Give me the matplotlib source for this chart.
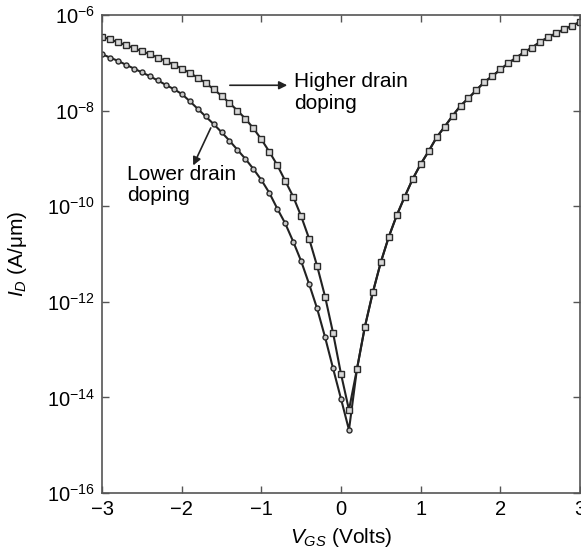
import numpy as np
import matplotlib
matplotlib.use('Agg')
import matplotlib.pyplot as plt

plt.rcParams['font.family'] = ['Liberation Sans', 'DejaVu Sans']
plt.rcParams['mathtext.fontset'] = 'custom'
plt.rcParams['mathtext.rm'] = 'Liberation Sans'
plt.rcParams['mathtext.it'] = 'Liberation Sans:italic'

# gate voltage, 0.1 V steps
vgs = np.round(np.arange(-3.0, 3.01, 0.1), 1)

# log10 of drain current (A/um)
# higher drain doping (squares)
log_id_high = [-6.45, -6.51, -6.57, -6.63, -6.69, -6.76, -6.82, -6.89, -6.96, -7.04,
               -7.12, -7.21, -7.31, -7.42, -7.55, -7.69, -7.84, -8.00, -8.17, -8.37,
               -8.60, -8.86, -9.14, -9.47, -9.80, -10.21, -10.68, -11.25, -11.89, -12.65,
               -13.51, -14.26, -13.41, -12.52, -11.80, -11.17, -10.64, -10.19, -9.80, -9.43,
               -9.12, -8.85, -8.56, -8.34, -8.11, -7.90, -7.74, -7.57, -7.40, -7.28,
               -7.14, -7.01, -6.89, -6.78, -6.68, -6.56, -6.47, -6.38, -6.30, -6.22,
               -6.15]
# lower drain doping (circles)
log_id_low = [-6.82, -6.89, -6.96, -7.04, -7.12, -7.20, -7.28, -7.37, -7.46, -7.55,
              -7.65, -7.80, -7.96, -8.12, -8.28, -8.45, -8.63, -8.82, -9.01, -9.22,
              -9.45, -9.72, -10.05, -10.36, -10.74, -11.15, -11.63, -12.14, -12.74, -13.39,
              -14.03, -14.68, -13.41, -12.52, -11.80, -11.17, -10.64, -10.19, -9.80, -9.43,
              -9.12, -8.85, -8.56, -8.34, -8.11, -7.90, -7.74, -7.57, -7.40, -7.28,
              -7.14, -7.01, -6.89, -6.78, -6.68, -6.56, -6.47, -6.38, -6.30, -6.22,
              -6.15]

xticks = [-3, -2, -1, 0, 1, 2, 3]
yexps = [-16, -14, -12, -10, -8, -6]

id_high = 10.0 ** np.array(log_id_high)
id_low = 10.0 ** np.array(log_id_low)

fig = plt.figure(figsize=(5.81, 5.58), dpi=100)
ax = fig.add_axes([102/581, 1 - 493/558, 478/581, 478/558])

ax.semilogy(vgs, id_low, '-', color='#222222', lw=1.5, marker='o', ms=3.6,
            mfc='#c8c8c8', mec='#2a2a2a', mew=1.0)
ax.semilogy(vgs, id_high, '-', color='#222222', lw=1.5, marker='s', ms=4.8,
            mfc='#d8d8d8', mec='#2a2a2a', mew=1.0)

ax.set_xlim(-3, 3)
ax.set_ylim(1e-16, 1e-6)
ax.set_xticks(xticks)
ax.set_xticklabels(['\u22123', '\u22122', '\u22121', '0', '1', '2', '3'])
ax.set_yticks([10.0 ** e for e in yexps])
ax.set_yticklabels([r'$10^{%d}$' % e for e in yexps])
ax.minorticks_off()
ax.tick_params(direction='in', top=True, right=True, length=5, width=1.0,
               color='#555555', labelsize=14.5, pad=5)
for s in ax.spines.values():
    s.set_color('#555555')
    s.set_linewidth(1.2)

ax.set_xlabel(r'$V_{GS}$ (Volts)', fontsize=15, labelpad=5)
ax.set_ylabel(r'$I_D$ (A/μm)', fontsize=15, labelpad=13)

# annotations
ax.annotate('', xy=(-0.64, 10 ** -7.47), xytext=(-1.43, 10 ** -7.47),
            arrowprops=dict(arrowstyle='-|>', color='#222222', lw=1.2, mutation_scale=12))
ax.text(-0.59, 10 ** -7.62, 'Higher drain\ndoping', fontsize=15, va='center',
        ha='left', linespacing=1.15)
ax.annotate('', xy=(-1.87, 10 ** -9.2), xytext=(-1.62, 10 ** -8.31),
            arrowprops=dict(arrowstyle='-|>', color='#222222', lw=1.2, mutation_scale=12))
ax.text(-2.68, 10 ** -9.14, 'Lower drain\ndoping', fontsize=15, va='top',
        ha='left', linespacing=1.15)

fig.savefig('out.png', dpi=100)
